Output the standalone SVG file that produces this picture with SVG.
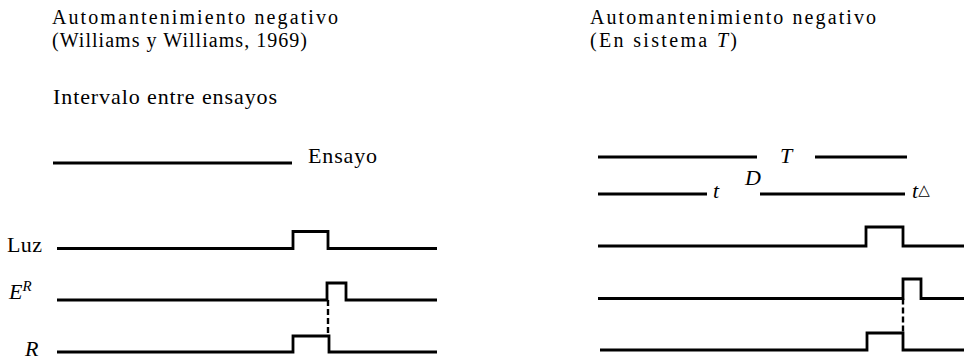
<svg xmlns="http://www.w3.org/2000/svg" width="964" height="362" viewBox="0 0 964 362">
<style>
text{font-family:"Liberation Serif","Times New Roman",serif;font-size:22px;fill:#000}
.ttl{font-size:20px}
.it{font-style:italic}
.sup{font-size:15px;font-style:italic}
.tri{font-family:"DejaVu Sans",sans-serif;font-size:15px;font-style:normal}
.sig{fill:none;stroke:#000;stroke-width:2.8;stroke-linejoin:miter;stroke-linecap:butt}
.dash{fill:none;stroke:#000;stroke-width:2.4;stroke-dasharray:6 3}
</style>
<rect width="964" height="362" fill="#fff"/>
<g id="titulo-izq">
<text class="ttl" x="52" y="24" textLength="286" lengthAdjust="spacing">Automantenimiento negativo</text>
<text class="ttl" x="52" y="46.5" textLength="255" lengthAdjust="spacing">(Williams y Williams, 1969)</text>
<text x="53" y="104" textLength="224" lengthAdjust="spacing">Intervalo entre ensayos</text>
</g>
<g id="ensayo">
<path class="sig" d="M53 163H292"/>
<text x="308" y="163" textLength="69" lengthAdjust="spacing">Ensayo</text>
</g>
<g id="luz-izq">
<text x="7" y="252" textLength="35" lengthAdjust="spacing">Luz</text>
<path class="sig" d="M57 248.5H293V231.5H328V248.5H437"/>
</g>
<g id="er-izq">
<text x="9" y="299" class="it" font-size="23">E<tspan class="sup" dy="-8">R</tspan></text>
<path class="sig" d="M57 300H327V283H346V300H437"/>
</g>
<g id="r-izq">
<text x="25" y="356" class="it" font-size="23">R</text>
<path class="sig" d="M57 352H293V336H329V352H437"/>
</g>
<g id="titulo-der">
<text class="ttl" x="590" y="24" textLength="286" lengthAdjust="spacing">Automantenimiento negativo</text>
<text class="ttl" x="590" y="46.5" textLength="147" lengthAdjust="spacing">(En sistema <tspan class="it">T</tspan>)</text>
</g>
<g id="T-der">
<path class="sig" d="M598 157H757M815 157H907"/>
<text x="780" y="163" class="it">T</text>
</g>
<g id="t-der">
<path class="sig" d="M598 194H707M760 194H905"/>
<text x="713" y="198" class="it">t</text>
<text x="745" y="185" class="it">D</text>
<text x="912" y="198" class="it">t<tspan class="tri" dy="-3">△</tspan></text>
</g>
<g id="luz-der">
<path class="sig" d="M598 246H866V227H903V246H964"/>
</g>
<g id="er-der">
<path class="sig" d="M598 298.5H903V279H921V298.5H964"/>
</g>
<g id="r-der">
<path class="sig" d="M600 350H867V333H903V350H964"/>
</g>
<g id="conectores">
<path class="dash" d="M328 300V336"/>
<path class="dash" d="M903 298.5V333"/>
</g>
</svg>
